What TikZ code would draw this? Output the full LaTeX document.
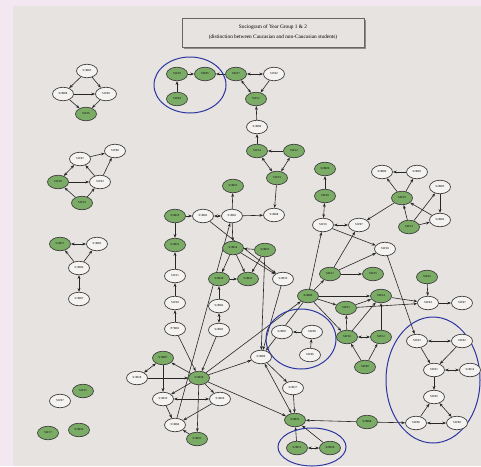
\documentclass[tikz,border=0pt]{standalone}
\usepackage{fontspec}
\setmainfont{Liberation Serif}
\usetikzlibrary{arrows.meta,shapes.geometric}
\definecolor{bgout}{HTML}{F3E7F2}
\definecolor{panel}{HTML}{E6E3E0}
\definecolor{gfill}{HTML}{7BAC66}
\definecolor{wfill}{HTML}{F4F3F1}
\definecolor{ring}{HTML}{2B36A0}
\pgfdeclarelayer{back}
\pgfdeclarelayer{edges}
\pgfsetlayers{back,edges,main}
\tikzset{
 nd/.style={ellipse, draw=black!75, line width=0.7pt, minimum width=21pt, minimum height=13.5pt, inner sep=0pt, font=\fontsize{3}{3.2}\selectfont},
 gn/.style={nd, fill=gfill},
 wn/.style={nd, fill=wfill},
 e/.style={-{Stealth[length=3.8pt,width=2.8pt]}, draw=black!85, line width=0.6pt},
 eb/.style={{Stealth[length=3.8pt,width=2.8pt]}-{Stealth[length=3.8pt,width=2.8pt]}, draw=black!85, line width=0.6pt},
 grp/.style={draw=ring, line width=1pt},
}
\begin{document}
\begin{tikzpicture}[x=1pt,y=-1pt]
\begin{pgfonlayer}{back}
\fill[bgout] (0,0) rectangle (481,466);
\fill[panel] (13,6) rectangle (481,466);
\end{pgfonlayer}
\useasboundingbox (0,0) rectangle (481,466);
% title
\draw[black!45, line width=1.2pt] (184,48) -- (365,48) -- (365,20);
\node[draw=black!60, fill=panel, minimum width=182pt, minimum height=29pt, align=center, font=\fontsize{5.3}{10}\selectfont] (title) at (273,32.5)
 {Sociogram of Year Group 1 \& 2\\(distinction between Caucasian and non-Caucasian students)};
% group rings
\draw[grp] (190,85) ellipse [x radius=36, y radius=28];
\draw[grp] (301,339) ellipse [x radius=35, y radius=30];
\draw[grp] (433,380) ellipse [x radius=47, y radius=63];
\draw[grp] (312,447) ellipse [x radius=34, y radius=19];
% top-left group
\node[wn] (a1) at (87,71) {S1M03};
\node[wn] (a2) at (63,94) {S2M08};
\node[wn] (a3) at (106,94) {S1F09};
\node[gn] (a4) at (86,114) {S1F16};
% top group
\node[gn] (b1) at (177,74) {S1F10};
\node[gn] (b2) at (205,74) {S2F05};
\node[gn] (b3) at (177,99) {S1F04};
\node[gn] (b4) at (236,74) {S2F17};
\node[wn] (b5) at (274,74) {S1F02};
\node[gn] (b6) at (256,99) {S1F11};
\node[wn] (b7) at (257,127) {S1M09};
\node[gn] (b8) at (257,151) {S1F14};
\node[gn] (b9) at (294,151) {S1F12};
\node[gn] (b10) at (277,178) {S1F13};
\node[wn] (f5) at (274,215) {S1M08};
% middle-left group
\node[wn] (c1) at (80,159) {S1F01};
\node[wn] (c2) at (115,151) {S1F08};
\node[gn] (c3) at (58,182) {S1F18};
\node[wn] (c4) at (100,182) {S1F03};
\node[gn] (c5) at (82,203) {S1F19};
% left group
\node[gn] (d1) at (60,244) {S1M17};
\node[wn] (d2) at (97,244) {S1M05};
\node[wn] (d3) at (79,268) {S1M06};
\node[wn] (d4) at (79,299) {S1M07};
% isolates
\node[gn] (e1) at (83,391) {S1F15};
\node[wn] (e2) at (60,401) {S1F07};
\node[gn] (e3) at (48,433) {S1F17};
\node[gn] (e4) at (79,430) {S1M16};
% central network
\node[gn] (f1) at (175,216) {S1M15};
\node[wn] (f2) at (203,216) {S1M02};
\node[wn] (f3) at (232,216) {S1M01};
\node[gn] (f4) at (233,186) {S1M12};
\node[gn] (o1) at (175,245) {S1M11};
\node[wn] (o2) at (175,276) {S1F21};
\node[wn] (o3) at (175,303) {S1F20};
\node[wn] (o4) at (175,329) {P7M01};
\node[gn] (o5) at (233,248) {S1M14};
\node[gn] (o6) at (265,250) {S2M12};
\node[gn] (o7) at (219,279) {S2M18};
\node[gn] (o8) at (248,279) {S1M13};
\node[wn] (o9) at (283,279) {S2M19};
\node[wn] (o10) at (219,306) {S2M04};
\node[wn] (o11) at (219,330) {S2M03};
\node[wn] (o12) at (282,332) {S2M07};
\node[wn] (o13) at (312,332) {S2F08};
\node[wn] (n1) at (310,355) {S2F06};
% right upper
\node[gn] (g1) at (325,169) {S2M20};
\node[gn] (g2) at (325,196) {S2F18};
\node[wn] (g3) at (323,225) {S2F16};
\node[wn] (g4) at (359,225) {S1F07};
\node[wn] (h1) at (382,172) {S2M09};
\node[wn] (h2) at (417,172) {S2M01};
\node[gn] (h3) at (402,198) {S2F19};
\node[wn] (h4) at (440,187) {S2M05};
\node[wn] (h5) at (440,220) {S2M02};
\node[gn] (h6) at (409,227) {S2F13};
% right middle
\node[wn] (i1) at (385,249) {S2F20};
\node[gn] (i2) at (330,274) {S2F11};
\node[gn] (i3) at (373,274) {S2F15};
\node[gn] (i4) at (308,296) {S2M06};
\node[gn] (i5) at (381,296) {S2F14};
\node[gn] (i6) at (346,308) {S2F21};
\node[gn] (i7) at (347,337) {S2F10};
\node[gn] (i8) at (381,337) {S2F12};
\node[gn] (i9) at (365,367) {S2F09};
\node[gn] (j1) at (427,277) {S2F22};
\node[wn] (j2) at (428,303) {S2F04};
\node[wn] (j3) at (462,303) {S2F07};
% right ring
\node[wn] (k1) at (417,341) {S2F03};
\node[wn] (k2) at (462,341) {S2F02};
\node[wn] (k3) at (434,370) {S2F01};
\node[wn] (k4) at (470,370) {S2M14};
\node[wn] (k5) at (434,397) {S2F05};
\node[wn] (k6) at (416,423) {S2F06};
\node[wn] (k7) at (457,423) {S2F08};
\node[gn] (l1) at (367,422) {S2M08};
\node[gn] (l2) at (330,448) {S2M10};
% bottom
\node[gn] (m1) at (163,358) {S1M07};
\node[wn] (m12) at (137,378) {S1M18};
\node[gn] (m2) at (199,378) {S1M10};
\node[wn] (m3) at (163,399) {S1M19};
\node[wn] (m4) at (220,399) {S1M20};
\node[wn] (m5) at (175,425) {S1M04};
\node[gn] (m6) at (197,439) {S1M21};
\node[wn] (m7) at (261,357) {S2M09};
\node[wn] (m8) at (293,388) {S2M17};
\node[gn] (m9) at (295,420) {S2M15};
\node[gn] (m10) at (297,448) {S2M11};
\begin{pgfonlayer}{edges}
\draw[e] (a1) -- (a2); \draw[e] (a1) -- (a3); \draw[e] (a2) -- (a3);
\draw[e] (a2) -- (a4); \draw[e] (a3) -- (a4);
\draw[e] (b3) -- (b1); \draw[e] (b1) -- (b2); \draw[e] (b4) -- (b2);
\draw[eb] (b4) -- (b5); \draw[eb] (b4) -- (b6); \draw[e] (b5) -- (b6);
\draw[e] (b7) -- (b6); \draw[e] (b8) -- (b7); \draw[e] (b9) -- (b8);
\draw[eb] (b8) -- (b10); \draw[eb] (b9) -- (b10); \draw[e] (b10) -- (f5);
\draw[eb] (c3) -- (c1); \draw[e] (c1) -- (c2); \draw[e] (c3) -- (c4);
\draw[e] (c4) -- (c1); \draw[e] (c4) -- (c2); \draw[e] (c5) -- (c3); \draw[e] (c5) -- (c4);
\draw[eb] (d1) -- (d2); \draw[e] (d3) -- (d1); \draw[e] (d3) -- (d2); \draw[eb] (d3) -- (d4);
\draw[e] (f1) -- (f2); \draw[eb] (f2) -- (f3); \draw[e] (f3) -- (f4); \draw[e] (f3) -- (f5);
\draw[e] (f1) -- (o1); \draw[e] (o2) -- (o1); \draw[e] (o3) -- (o2); \draw[e] (o4) -- (o3);
\draw[e] (o6) -- (o5); \draw[e] (f3) -- (o5); \draw[e] (o5) -- (o7); \draw[e] (o7) -- (o8);
\draw[e] (o5) -- (o8); \draw[e] (o5) -- (o9); \draw[e] (f2) -- (o9); \draw[e] (o6) -- (o8);
\draw[e] (o10) -- (o7); \draw[eb] (o10) -- (o11);
\draw[e] (m5) -- (f3); \draw[e] (o4) -- (m2); \draw[e] (o11) -- (m2); \draw[e] (m2) -- (i4);
\draw[e] (o6) -- (m7); \draw[e] (o9) -- (m7); \draw[e] (i4) -- (m7);
\draw[e] (o13) -- (o12); \draw[e] (n1) -- (o13);
\draw[e] (g2) -- (g1); \draw[eb] (g3) -- (g2); \draw[eb] (g3) -- (g4);
\draw[e] (h3) -- (g4); \draw[e] (i2) -- (g4); \draw[e] (i4) -- (g3); \draw[e] (g3) -- (i1);
\draw[e] (h2) -- (h1); \draw[e] (h3) -- (h1); \draw[e] (h3) -- (h2); \draw[e] (h5) -- (h3);
\draw[e] (h6) -- (h3); \draw[e] (h6) -- (h4); \draw[e] (h4) -- (h5); \draw[e] (h6) -- (h5);
\draw[e] (i2) -- (i1); \draw[e] (i2) -- (i3); \draw[e] (i4) -- (i2);
\draw[e, line width=1pt] (i4) -- (i5); \draw[e] (i4) -- (i6); \draw[e] (i4) -- (i7);
\draw[e] (i6) -- (i5); \draw[e] (i7) -- (i6); \draw[e] (i7) -- (i5); \draw[e] (i8) -- (i5);
\draw[eb] (i7) -- (i8); \draw[e] (i5) -- (j2); \draw[e] (i6) -- (j2);
\draw[e] (i9) -- (i7); \draw[e] (i9) -- (i8); \draw[e] (i1) -- (k1);
\draw[e] (j1) -- (j2); \draw[e] (j2) -- (j3);
\draw[eb] (k1) -- (k2); \draw[e] (k1) -- (k3); \draw[e] (k2) -- (k3); \draw[eb] (k3) -- (k4);
\draw[e] (k3) -- (k5); \draw[e] (k6) -- (k5); \draw[eb] (k5) -- (k7); \draw[eb] (k6) -- (k7);
\draw[e] (l1) -- (k6); \draw[e] (l1) -- (m9);
\draw[eb] (m12) -- (m1); \draw[e] (m1) -- (m3); \draw[e] (m2) -- (m1); \draw[e] (m12) -- (m2);
\draw[e] (m2) -- (m3); \draw[e] (m2) -- (m4); \draw[eb] (m3) -- (m4); \draw[e] (m3) -- (m5);
\draw[e] (m4) -- (m5); \draw[e] (m6) -- (m5); \draw[e] (m2) -- (m6); \draw[e] (m2) -- (m7);
\draw[e] (m2) -- (m9); \draw[eb] (m7) -- (m9); \draw[e] (m7) -- (m8); \draw[e] (m8) -- (m9);
\draw[e] (m10) -- (m9); \draw[eb] (l2) -- (m10); \draw[e] (l2) -- (m9);
\end{pgfonlayer}
\end{tikzpicture}
\end{document}
